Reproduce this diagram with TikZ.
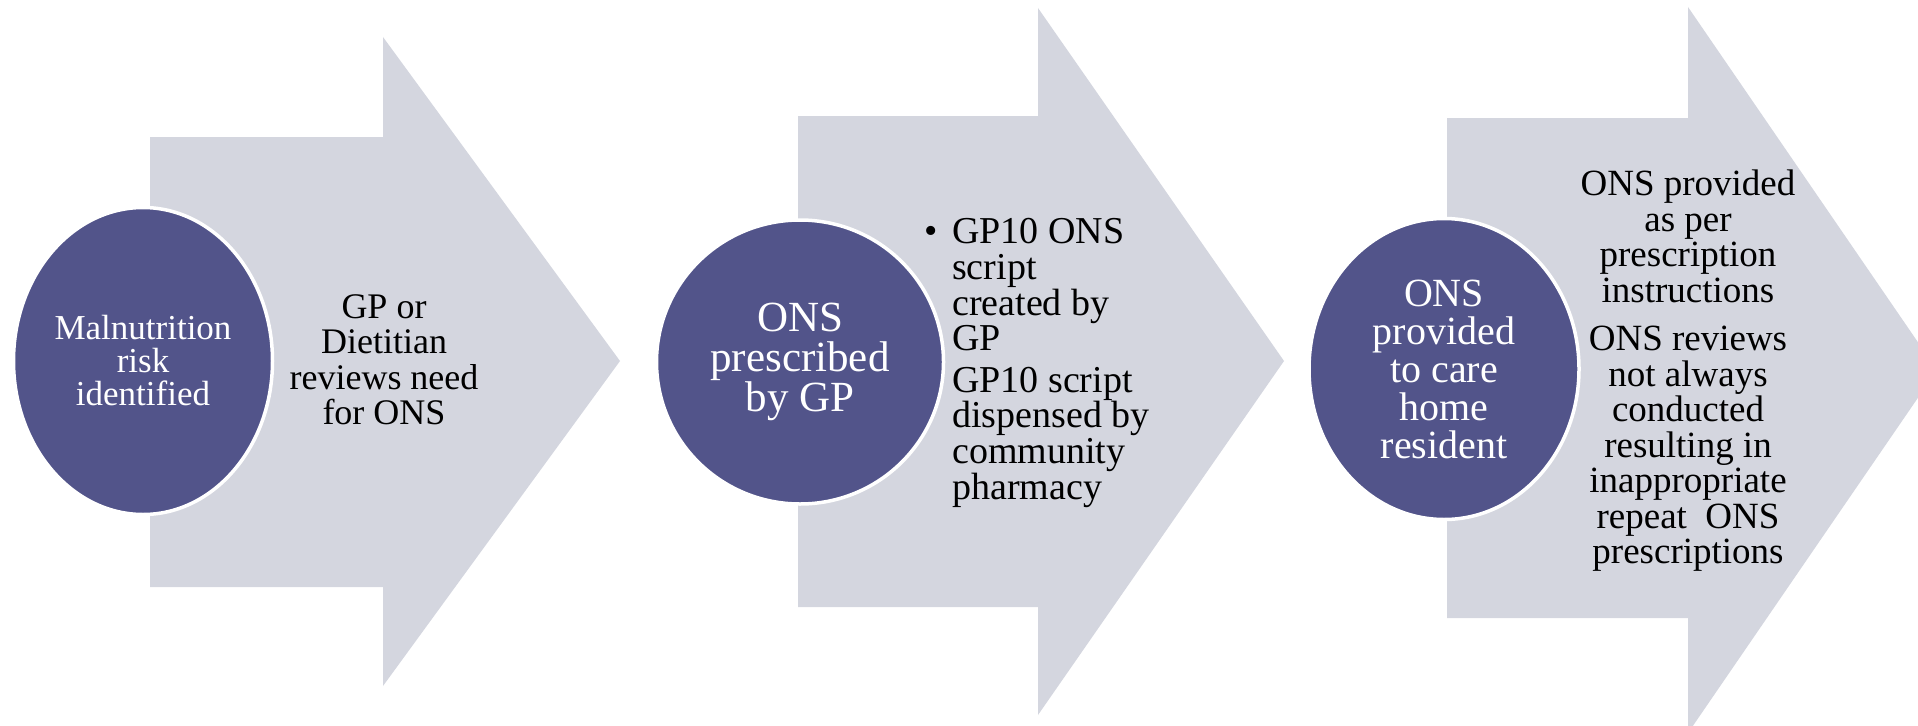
\documentclass[tikz,border=0pt]{standalone}
\usepackage{fontspec}
\setmainfont{Liberation Serif}
\usetikzlibrary{shapes.geometric}
\definecolor{arrowfill}{HTML}{D4D6DF}
\definecolor{discfill}{HTML}{52548A}
\begin{document}
\begin{tikzpicture}[x=1pt,y=-1pt,
  flowarrow/.style={fill=arrowfill},
  stagedisc/.style={ellipse, fill=discfill, draw=white, line width=3.5pt,
                    inner sep=0pt, text=white, align=center},
  notes/.style={inner sep=0pt, text=black}]
\useasboundingbox (0,0) rectangle (1918,725);
\begin{scope}
  \clip (0,0) rectangle (1918,725);
  % block arrows, one per stage
  \fill[flowarrow] (150,137) -- (383,137) -- (383,37) -- (620,361)
                -- (383,686) -- (383,587) -- (150,587) -- cycle;
  \fill[flowarrow] (798,116) -- (1038,116) -- (1038,8) -- (1284,361)
                -- (1038,715) -- (1038,607) -- (798,607) -- cycle;
  \fill[flowarrow] (1447,118) -- (1688,118) -- (1688,7) -- (1937,370)
                -- (1688,733) -- (1688,618) -- (1447,618) -- cycle;
\end{scope}

% stage discs
\node[stagedisc, minimum width=259, minimum height=307,
      font=\fontsize{35}{33}\selectfont] (s1) at (143,361)
  {Malnutrition\\risk\\identified};
\node[stagedisc, minimum width=287, minimum height=284,
      font=\fontsize{43}{40}\selectfont] (s2) at (800,362)
  {ONS\\prescribed\\by GP};
\node[stagedisc, minimum width=270, minimum height=301,
      font=\fontsize{40}{38}\selectfont] (s3) at (1444,369)
  {ONS\\provided\\to care\\home\\resident};

% notes inside the arrows
\node[notes, align=center, font=\fontsize{36}{35.5}\selectfont] (n1) at (384,360)
  {GP or\\Dietitian\\reviews need\\for ONS};
\node[notes, align=left, anchor=west, font=\fontsize{38}{35.6}\selectfont] (n2) at (952,363)
  {\makebox[0pt][r]{\textbullet\hspace{14pt}}GP10 ONS\\script\\created by\\GP\\[6pt]GP10 script\\dispensed by\\community\\pharmacy};
\node[notes, align=center, font=\fontsize{37}{35.5}\selectfont] (n3) at (1688,371)
  {ONS provided\\as per\\prescription\\instructions\\[13pt]ONS reviews\\not always\\conducted\\resulting in\\inappropriate\\repeat\ \ ONS\\prescriptions};
\end{tikzpicture}
\end{document}
